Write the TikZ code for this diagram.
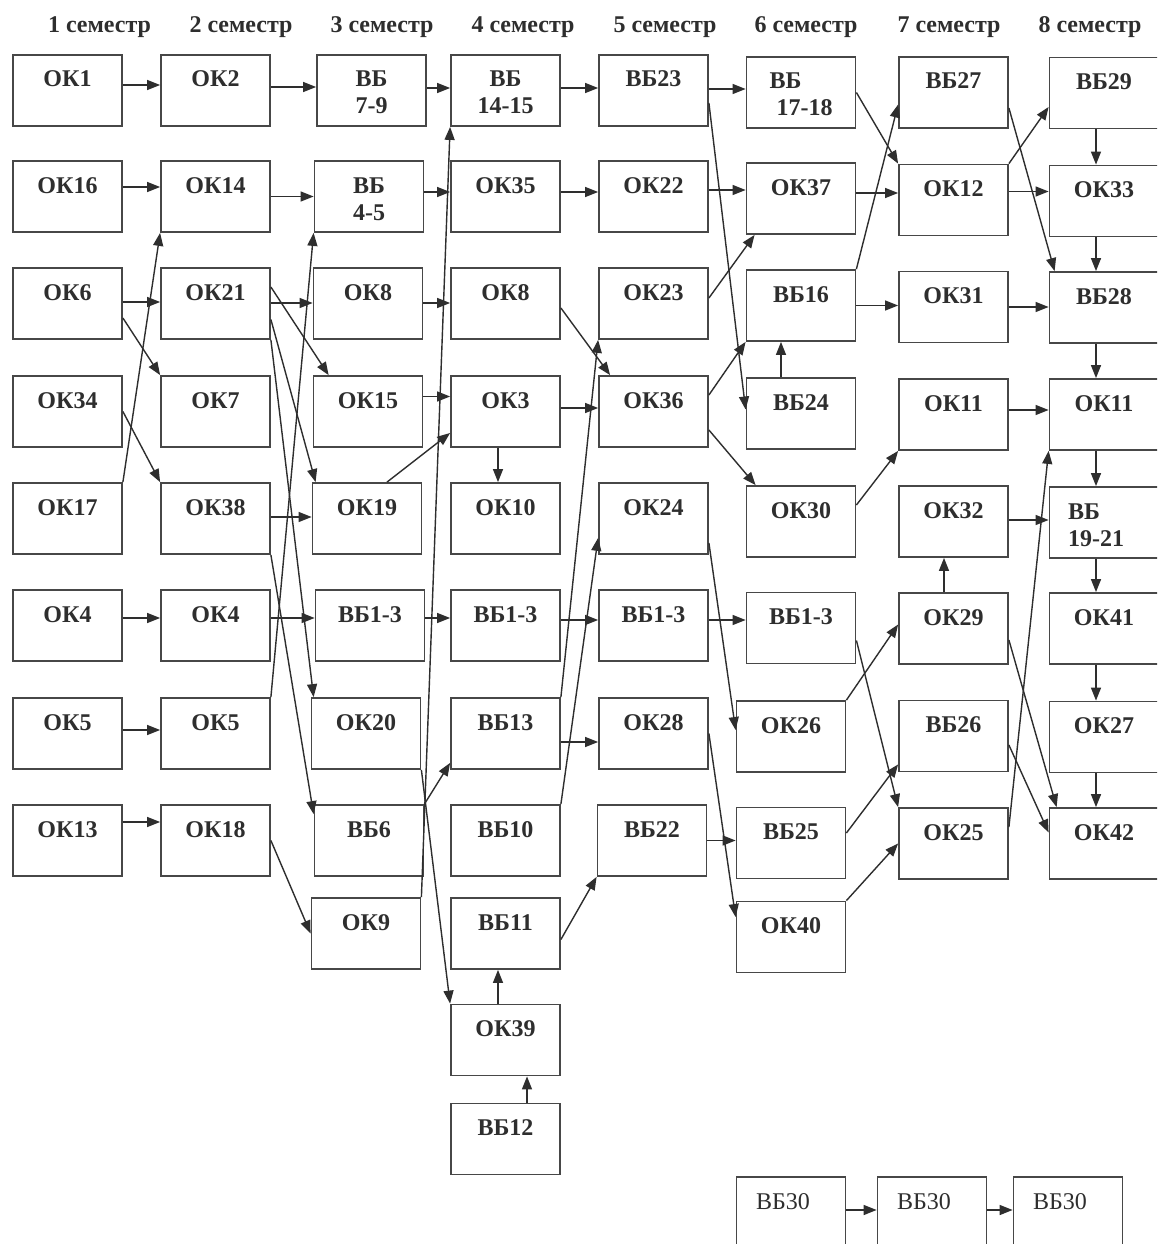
\documentclass[tikz,border=0pt]{standalone}
\usepackage{fontspec}
\setmainfont{Liberation Serif}
\usetikzlibrary{arrows.meta,calc}
\definecolor{ink}{HTML}{2E2E2E}
\definecolor{frame}{HTML}{474747}
\newcommand{\twoc}[2]{\begin{tabular}[t]{@{}c@{}}#1\\#2\end{tabular}}
\newcommand{\harr}[3]{\draw[arr] ($(#1.east)+(0pt,#3pt)$) -- ($(#1.east -| #2.west)+(0pt,#3pt)$);}
\newcommand{\darr}[3]{\draw[arr] ($(#1.south)+(#3pt,0pt)$) -- ($(#1.south |- #2.north)+(#3pt,0pt)$);}
\newcommand{\uarr}[3]{\draw[arr] ($(#1.north)+(#3pt,0pt)$) -- ($(#1.north |- #2.south)+(#3pt,0pt)$);}
\tikzset{
  box/.style={draw=frame, line width=1.8pt, minimum width=109pt, minimum height=71pt,
    inner sep=0pt, text height=32pt, text depth=39pt, text=ink,
    font=\fontsize{24}{27}\selectfont\bfseries},
  plainbox/.style={box, font=\fontsize{24}{27}\selectfont},
  hdr/.style={anchor=base, inner sep=0pt, text=ink, font=\fontsize{24}{27}\selectfont\bfseries},
  arr/.style={draw=ink, line width=1.4pt, -{Triangle[length=13pt,width=10pt]}},
}
\begin{document}
\begin{tikzpicture}[x=1pt,y=-1pt]
\clip (0,0) rectangle (1157,1244);
\fill[white] (0,0) rectangle (1157,1244);

% headers
\node[hdr] (h1) at (99.5,33) {1 семестр};
\node[hdr] (h2) at (241,33) {2 семестр};
\node[hdr] (h3) at (382,33) {3 семестр};
\node[hdr] (h4) at (523,33) {4 семестр};
\node[hdr] (h5) at (665,33) {5 семестр};
\node[hdr] (h6) at (806,33) {6 семестр};
\node[hdr] (h7) at (949,33) {7 семестр};
\node[hdr] (h8) at (1090,33) {8 семестр};

% column 1
\node[box] (ok1)  at (67.5,90.5)  {ОК1};
\node[box] (ok16) at (67.5,196.5) {ОК16};
\node[box] (ok6)  at (67.5,303.5) {ОК6};
\node[box] (ok34) at (67.5,411.5) {ОК34};
\node[box] (ok17) at (67.5,518.5) {ОК17};
\node[box] (ok4a) at (67.5,625.5) {ОК4};
\node[box] (ok5a) at (67.5,733.5) {ОК5};
\node[box] (ok13) at (67.5,840.5) {ОК13};

% column 2
\node[box] (ok2)  at (215.5,90.5)  {ОК2};
\node[box] (ok14) at (215.5,196.5) {ОК14};
\node[box] (ok21) at (215.5,303.5) {ОК21};
\node[box] (ok7)  at (215.5,411.5) {ОК7};
\node[box] (ok38) at (215.5,518.5) {ОК38};
\node[box] (ok4b) at (215.5,625.5) {ОК4};
\node[box] (ok5b) at (215.5,733.5) {ОК5};
\node[box] (ok18) at (215.5,840.5) {ОК18};

% column 3
\node[box] (vb79) at (371.5,90.5)  {\twoc{ВБ}{7-9}};
\node[box] (vb45) at (369,196.5)   {\twoc{ВБ}{4-5}};
\node[box] (ok8a) at (368,303.5)   {ОК8};
\node[box] (ok15) at (368,411.5)   {ОК15};
\node[box] (ok19) at (367,518.5)   {ОК19};
\node[box] (vbxa) at (370,625.5)   {ВБ1-3};
\node[box] (ok20) at (366,733.5)   {ОК20};
\node[box] (vb6)  at (369,840.5)   {ВБ6};
\node[box] (ok9)  at (366,933.5)   {ОК9};

% column 4
\node[box] (vb1415) at (505.5,90.5)  {\twoc{ВБ}{14-15}};
\node[box] (ok35)   at (505.5,196.5) {ОК35};
\node[box] (ok8b)   at (505.5,303.5) {ОК8};
\node[box] (ok3)    at (505.5,411.5) {ОК3};
\node[box] (ok10)   at (505.5,518.5) {ОК10};
\node[box] (vbxb)   at (505.5,625.5) {ВБ1-3};
\node[box] (vbxiii) at (505.5,733.5) {ВБ13};
\node[box] (vb10)   at (505.5,840.5) {ВБ10};
\node[box] (vb11)   at (505.5,933.5) {ВБ11};
\node[box] (ok39)   at (505.5,1040)  {ОК39};
\node[box] (vb12)   at (505.5,1139)  {ВБ12};

% column 5
\node[box] (vb23) at (653.5,90.5)  {ВБ23};
\node[box] (ok22) at (653.5,196.5) {ОК22};
\node[box] (ok23) at (653.5,303.5) {ОК23};
\node[box] (ok36) at (653.5,411.5) {ОК36};
\node[box] (ok24) at (653.5,518.5) {ОК24};
\node[box] (vbxc) at (653.5,625.5) {ВБ1-3};
\node[box] (ok28) at (653.5,733.5) {ОК28};
\node[box] (vb22) at (652,840.5)   {ВБ22};

% column 6
\node[box] (vb1718) at (801,92.5)  {\begin{tabular}[t]{@{}l@{}}ВБ\\\hspace{7pt}17-18\end{tabular}};
\node[box] (ok37)   at (801,198.5) {ОК37};
\node[box] (vb16)   at (801,305.5) {ВБ16};
\node[box] (vb24)   at (801,413.5) {ВБ24};
\node[box] (ok30)   at (801,521.5) {ОК30};
\node[box] (vbxd)   at (801,628)   {ВБ1-3};
\node[box] (ok26)   at (791,736.5) {ОК26};
\node[box] (vb25)   at (791,843)   {ВБ25};
\node[box] (ok40)   at (791,937)   {ОК40};

% column 7
\node[box] (vb27)  at (953.5,92.5)  {ВБ27};
\node[box] (ok12)  at (953.5,200)   {ОК12};
\node[box] (ok31)  at (953.5,307)   {ОК31};
\node[box] (ok11a) at (953.5,414.5) {ОК11};
\node[box] (ok32)  at (953.5,521.5) {ОК32};
\node[box] (ok29)  at (953.5,628.5) {ОК29};
\node[box] (vb26)  at (953.5,736)   {ВБ26};
\node[box] (ok25)  at (953.5,843.5) {ОК25};

% column 8
\node[box] (vb29)   at (1104,93)    {ВБ29};
\node[box] (ok33)   at (1104,201)   {ОК33};
\node[box] (vb28)   at (1104,307.5) {ВБ28};
\node[box] (ok11b)  at (1104,414.5) {ОК11};
\node[box] (vb1921) at (1104,522.5) {\begin{tabular}[t]{@{}l@{\hspace{16pt}}}ВБ\\19-21\end{tabular}};
\node[box] (ok41)   at (1104,628.5) {ОК41};
\node[box] (ok27)   at (1104,737)   {ОК27};
\node[box] (ok42)   at (1104,843.5) {ОК42};

% bottom row
\node[plainbox] (vb30a) at (791,1212.5)  {ВБ30\kern16pt};
\node[plainbox] (vb30b) at (932,1212.5)  {ВБ30\kern16pt};
\node[plainbox] (vb30c) at (1068,1212.5) {ВБ30\kern16pt};

% horizontal arrows
\harr{ok1}{ok2}{5.5}
\harr{ok2}{vb79}{3.5}
\harr{vb79}{vb1415}{2.5}
\harr{vb1415}{vb23}{2.5}
\harr{vb23}{vb1718}{1.5}
\harr{ok16}{ok14}{9.5}
\harr{ok14}{vb45}{0}
\harr{vb45}{ok35}{4.5}
\harr{ok35}{ok22}{4.5}
\harr{ok22}{ok37}{6.5}
\harr{ok37}{ok12}{5.5}
\harr{ok12}{ok33}{8.5}
\harr{ok6}{ok21}{1.5}
\harr{ok21}{ok8a}{0.5}
\harr{ok8a}{ok8b}{0.5}
\harr{vb16}{ok31}{0}
\harr{ok31}{vb28}{0}
\harr{ok15}{ok3}{15}
\harr{ok3}{ok36}{3.5}
\harr{ok11a}{ok11b}{4.5}
\harr{ok38}{ok19}{1.5}
\harr{ok32}{vb1921}{1.5}
\harr{ok4a}{ok4b}{7.5}
\harr{ok4b}{vbxa}{7.5}
\harr{vbxa}{vbxb}{7.5}
\harr{vbxb}{vbxc}{5.5}
\harr{vbxc}{vbxd}{5.5}
\harr{ok5a}{ok5b}{3.5}
\harr{vbxiii}{ok28}{-8.5}
\harr{ok13}{ok18}{18.5}
\harr{vb22}{vb25}{0}
\harr{vb30a}{vb30b}{2.5}
\harr{vb30b}{vb30c}{2.5}

% vertical arrows
\darr{ok3}{ok10}{-7.5}
\uarr{vb24}{vb16}{-20}
\uarr{ok39}{vb11}{-7.5}
\uarr{vb12}{ok39}{21.5}
\uarr{ok29}{ok32}{-9.5}
\darr{vb29}{ok33}{-8}
\darr{ok33}{vb28}{-8}
\darr{vb28}{ok11b}{-8}
\darr{ok11b}{vb1921}{-8}
\darr{vb1921}{ok41}{-8}
\darr{ok41}{ok27}{-8}
\darr{ok27}{ok42}{-8}

% diagonal arrows
\draw[arr] (ok17.north east) -- (ok14.south west);
\draw[arr] ($(ok6.east)+(0pt,-14.5pt)$) -- (ok7.north west);
\draw[arr] (ok34.east) -- (ok38.north west);
\draw[arr] ($(ok21.east)+(0pt,16.5pt)$) -- ($(ok15.north west)+(16pt,0pt)$);
\draw[arr] ($(ok21.east)+(0pt,-16pt)$) -- ($(ok19.north west)+(4pt,0pt)$);
\draw[arr] (ok21.south east) -- ($(ok20.north west)+(3pt,0pt)$);
\draw[arr] (ok38.south east) -- ($(vb6.north west)+(0pt,-10pt)$);
\draw[arr] (ok5b.north east) -- (vb45.south west);
\draw[arr] (ok18.east) -- (ok9.west);
\draw[arr] ($(ok19.north)+(20pt,0pt)$) -- ($(ok3.west)+(0pt,-21.5pt)$);
\draw[arr] (ok20.south east) -- (ok39.north west);
\draw[arr] (vb6.north east) -- ($(vbxiii.south west)+(0pt,7pt)$);
\draw[arr] (ok9.north east) -- (vb1415.south west);
\draw[arr] ($(ok8b.east)+(0pt,-4.5pt)$) -- ($(ok36.north west)+(12pt,0pt)$);
\draw[arr] (vbxiii.north east) -- (ok23.south west);
\draw[arr] (vb10.north east) -- ($(ok24.south west)+(0pt,17pt)$);
\draw[arr] ($(ok23.east)+(0pt,5.5pt)$) -- ($(ok37.south west)+(9pt,0pt)$);
\draw[arr] ($(vb23.east)+(0pt,-12.5pt)$) -- ($(vb24.west)+(0pt,4pt)$);
\draw[arr] (vb1718.east) -- (ok12.north west);
\draw[arr] (vb16.north east) -- ($(vb27.west)+(0pt,-12pt)$);
\draw[arr] ($(vb27.east)+(0pt,-15.5pt)$) -- ($(vb28.north west)+(6pt,0pt)$);
\draw[arr] (ok12.north east) -- ($(vb29.west)+(0pt,-14pt)$);
\draw[arr] ($(ok36.east)+(0pt,16.5pt)$) -- (vb16.south west);
\draw[arr] ($(ok36.east)+(0pt,-18.5pt)$) -- ($(ok30.north west)+(10pt,0pt)$);
\draw[arr] ($(ok30.east)+(0pt,16.5pt)$) -- (ok11a.south west);
\draw[arr] ($(ok24.east)+(0pt,-24.5pt)$) -- ($(ok26.west)+(0pt,6.5pt)$);
\draw[arr] (ok28.east) -- ($(ok40.west)+(0pt,20pt)$);
\draw[arr] ($(vb11.east)+(0pt,-6pt)$) -- (vb22.south west);
\draw[arr] (ok26.north east) -- ($(ok29.west)+(0pt,4pt)$);
\draw[arr] ($(vbxd.east)+(0pt,-12.5pt)$) -- (ok25.north west);
\draw[arr] ($(vb25.east)+(0pt,10pt)$) -- ($(vb26.south west)+(0pt,8pt)$);
\draw[arr] (ok40.north east) -- (ok25.west);
\draw[arr] ($(ok25.east)+(0pt,16.5pt)$) -- (ok11b.south west);
\draw[arr] ($(ok29.east)+(0pt,-11.5pt)$) -- ($(ok42.north west)+(8pt,0pt)$);
\draw[arr] ($(vb26.east)+(0pt,-9pt)$) -- ($(ok42.west)+(0pt,11pt)$);
\end{tikzpicture}
\end{document}
